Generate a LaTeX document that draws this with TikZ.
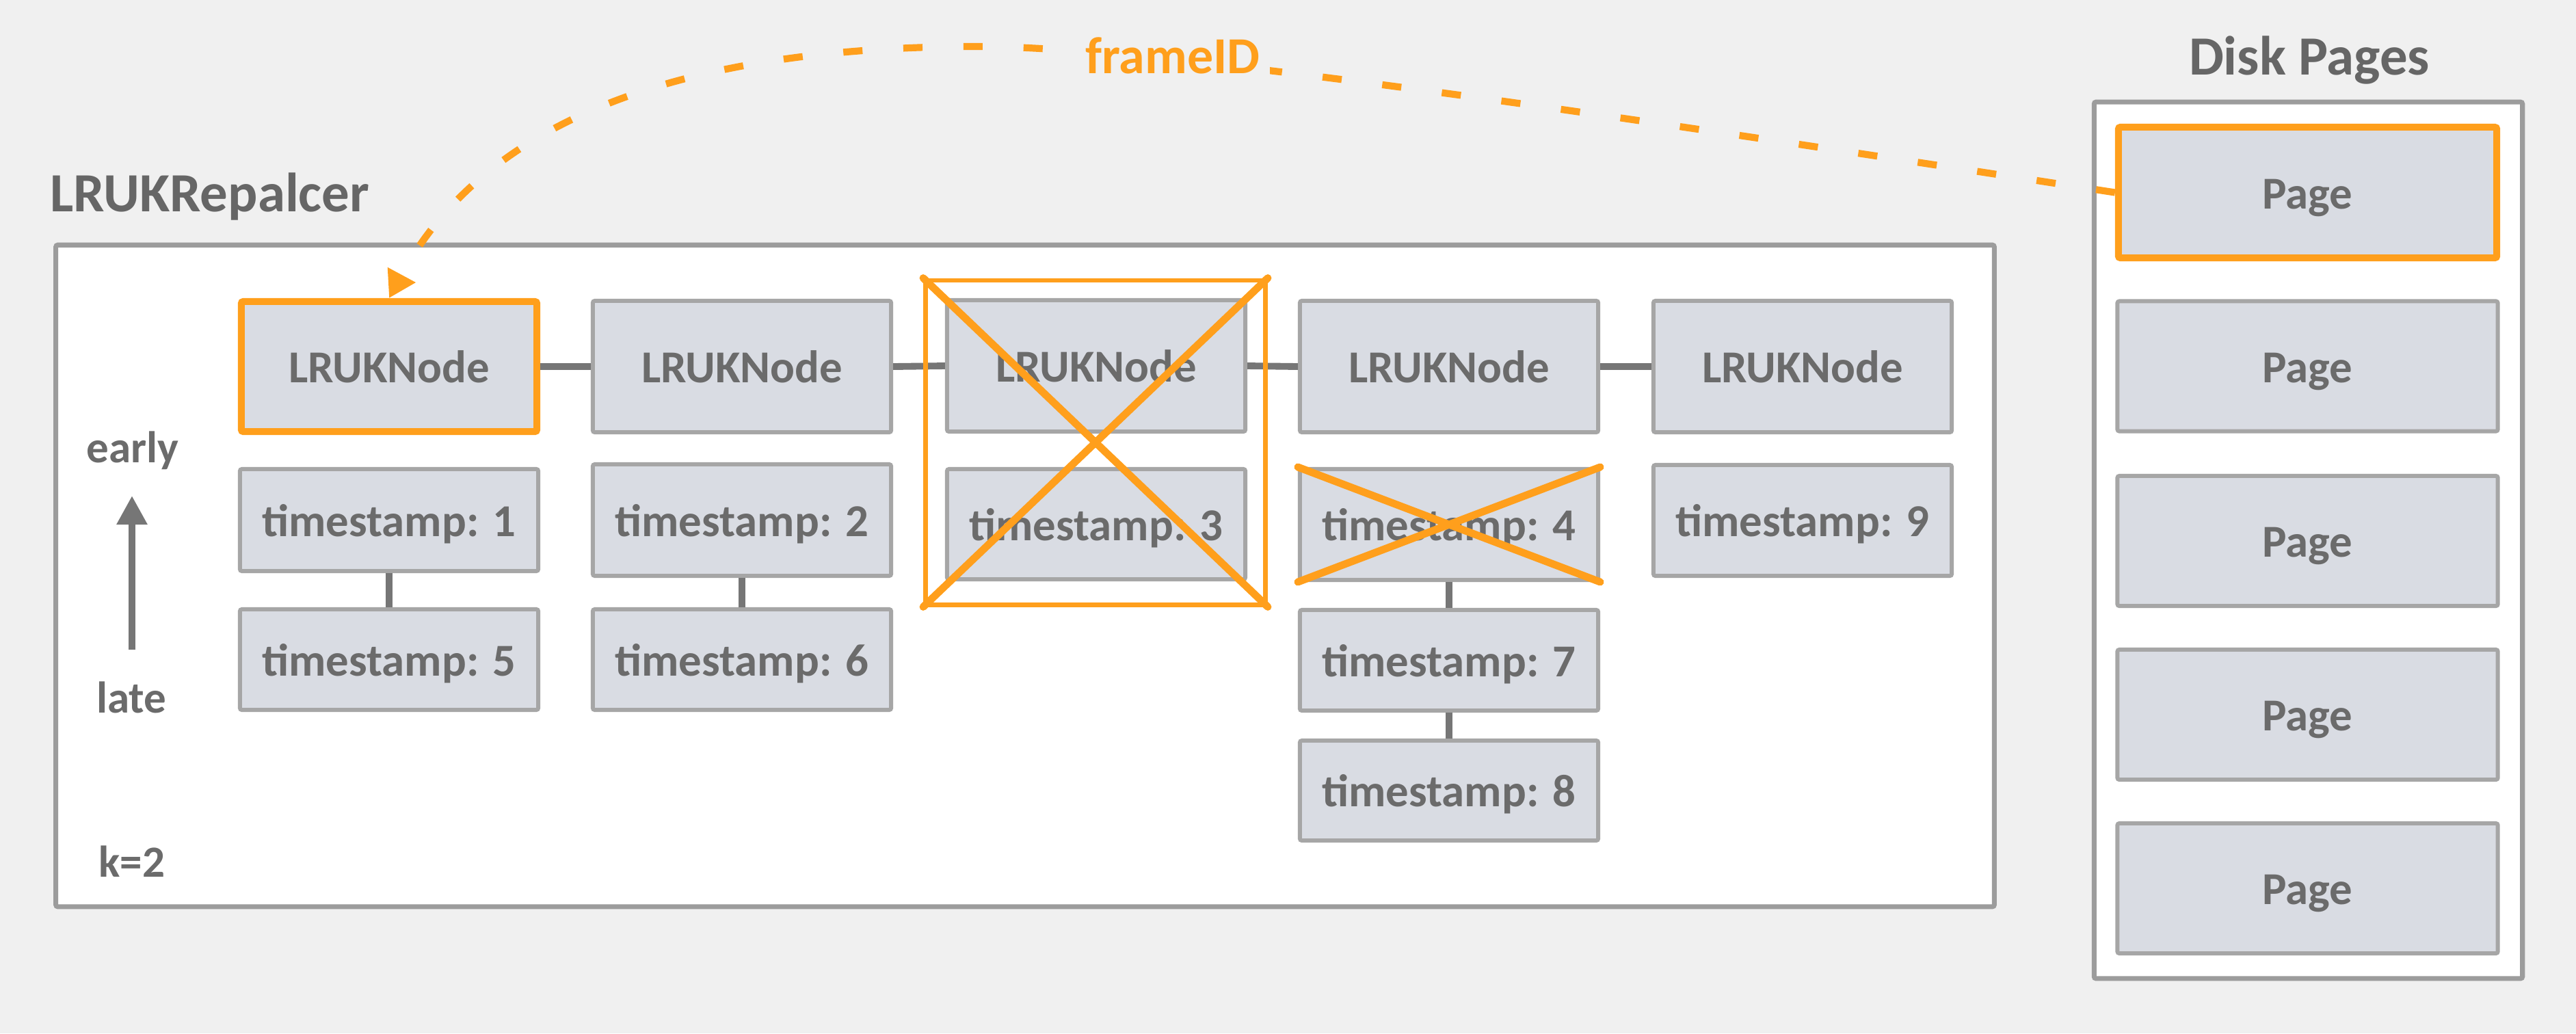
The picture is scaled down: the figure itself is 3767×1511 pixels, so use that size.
\documentclass[tikz,border=0pt]{standalone}
\usepackage{fontspec}
\setmainfont{Carlito}
\usetikzlibrary{arrows.meta}
\definecolor{bg}{HTML}{F0F0F0}
\definecolor{boxgray}{HTML}{A6A6A6}
\definecolor{framegray}{HTML}{9C9C9C}
\definecolor{nodefill}{HTML}{D9DCE3}
\definecolor{txt}{HTML}{6B6B6B}
\definecolor{ttl}{HTML}{666666}
\definecolor{org}{HTML}{FF9F1C}
\definecolor{conn}{HTML}{767676}
\begin{document}
\begin{tikzpicture}[x=0.01cm,y=-0.01cm,
  cell/.style={draw=boxgray, fill=nodefill, line width=1.7pt, inner sep=0pt, text=txt,
    font={\fontsize{19pt}{23pt}\selectfont\bfseries}, text height=13.6pt, text depth=0pt,
    minimum width=4.36cm, rounded corners=0.8pt},
  hot/.style={draw=org, line width=2.85pt},
  frame/.style={draw=framegray, fill=white, line width=2pt, inner sep=0pt, rounded corners=0.8pt},
  link/.style={draw=conn, line width=2.8pt},
  cross/.style={draw=org, line width=3.1pt, line cap=round},
  title/.style={inner sep=0pt, text=ttl, font={\fontsize{23pt}{27pt}\selectfont\bfseries}},
  side/.style={inner sep=0pt, text=txt, font={\fontsize{18.5pt}{22pt}\selectfont\bfseries}}
]
\fill[bg] (0,0) rectangle (3767,1511);
\useasboundingbox (0,0) rectangle (3767,1511);

% containers
\node[frame, minimum width=28.33cm, minimum height=9.67cm] (outer) at (1499,842) {};
\node[frame, minimum width=6.26cm, minimum height=12.81cm] (disk) at (3375.5,790) {};

% titles
\node[title, anchor=base west] (ttlA) at (73,309) {LRUKRepalcer};
\node[title, anchor=base] (ttlB) at (3377,109) {Disk Pages};

% LRUK nodes
\node[cell, hot, minimum width=4.32cm, minimum height=1.90cm] (n1) at (569,536) {LRUKNode};
\node[cell, minimum height=1.92cm] (n2) at (1085,536) {LRUKNode};
\node[cell, minimum height=1.92cm] (n3) at (1603,535) {LRUKNode};
\node[cell, minimum height=1.92cm] (n4) at (2119,536) {LRUKNode};
\node[cell, minimum height=1.92cm] (n5) at (2636,536) {LRUKNode};

% timestamps
\node[cell, minimum height=1.49cm] (t1) at (569,760.5) {timestamp: 1};
\node[cell, minimum height=1.63cm] (t2) at (1085,760.5) {timestamp: 2};
\node[cell, minimum height=1.61cm] (t3) at (1603,766.5) {timestamp: 3};
\node[cell, minimum height=1.62cm] (t4) at (2119,767) {timestamp: 4};
\node[cell, minimum height=1.62cm] (t9) at (2636,761) {timestamp: 9};
\node[cell, minimum height=1.47cm] (t5) at (569,964.5) {timestamp: 5};
\node[cell, minimum height=1.47cm] (t6) at (1085,964.5) {timestamp: 6};
\node[cell, minimum height=1.47cm] (t7) at (2119,965.5) {timestamp: 7};
\node[cell, minimum height=1.46cm] (t8) at (2119,1156) {timestamp: 8};

% pages
\node[cell, hot, minimum width=5.53cm, minimum height=1.91cm] (p1) at (3374.5,281.5) {Page};
\node[cell, minimum width=5.56cm, minimum height=1.90cm] (p2) at (3374.5,535.5) {Page};
\node[cell, minimum width=5.56cm, minimum height=1.90cm] (p3) at (3374.5,791) {Page};
\node[cell, minimum width=5.56cm, minimum height=1.90cm] (p4) at (3374.5,1045) {Page};
\node[cell, minimum width=5.56cm, minimum height=1.90cm] (p5) at (3374.5,1299) {Page};

% connectors
\path[link] (n1.east) -- (n2.west);
\path[link] (n2.east) -- (n3.west);
\path[link] (n3.east) -- (n4.west);
\path[link] (n4.east) -- (n5.west);
\path[link] (t1.south) -- (t5.north);
\path[link] (t2.south) -- (t6.north);
\path[link] (t4.south) -- (t7.north);
\path[link] (t7.south) -- (t8.north);

% removed node
\node[draw=org, line width=1.9pt, inner sep=0pt, minimum width=4.97cm, minimum height=4.74cm] (xbox) at (1602,647) {};
\path[cross] (xbox.north west) -- (xbox.south east);
\path[cross] (xbox.south west) -- (xbox.north east);
\path[cross] (t4.north west) -- (t4.south east);
\path[cross] (t4.south west) -- (t4.north east);

% early / late
\node[side, anchor=base] (early) at (194,676) {early};
\node[side, anchor=base] (late) at (192,1042) {late};
\node[side, anchor=base] (k) at (193,1282) {k=2};
\coordinate (abot) at (193,950);
\coordinate (atop) at (193,725);
\draw[conn, line width=2.8pt, -{Triangle[length=12pt,width=12.2pt]}] (abot) -- (atop);

% frameID curve
\coordinate (peak) at (1430,68);
\draw[org, line width=2.9pt, dash pattern=on 8pt off 17pt, -{Triangle[length=11pt,width=12.5pt]}]
  (p1.west) .. controls (2400,175) and (1700,68) .. (peak)
  .. controls (900,68) and (680,230) .. (n1.north);
\node[inner sep=4pt, fill=bg, text=org, font={\fontsize{21.6pt}{26pt}\selectfont\bfseries}, anchor=base] (fid) at (1715,107) {frameID};
\end{tikzpicture}
\end{document}
